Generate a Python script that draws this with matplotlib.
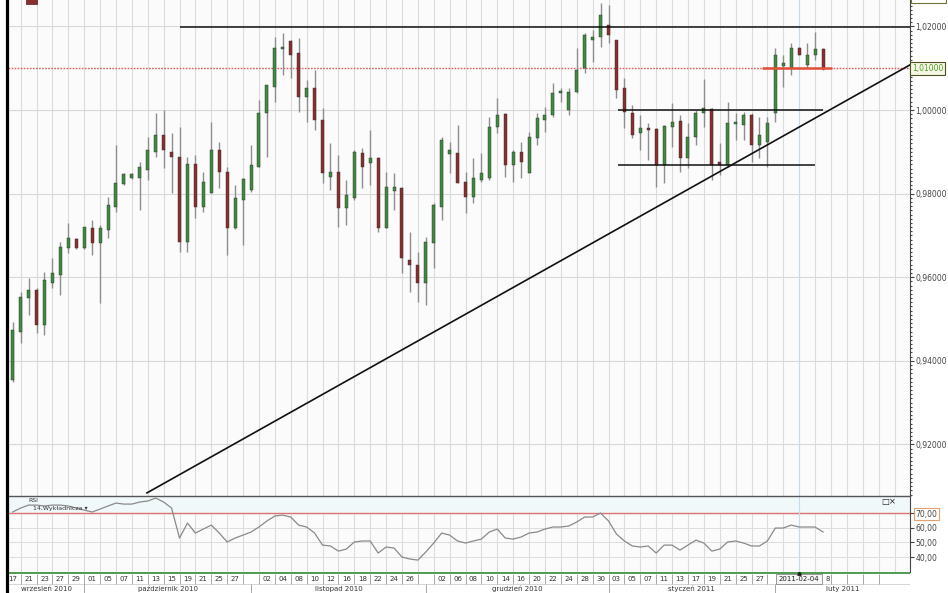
import matplotlib
matplotlib.use("Agg")
import matplotlib.pyplot as plt
from matplotlib.patches import Rectangle
from matplotlib.lines import Line2D
from matplotlib.ticker import MultipleLocator

# daily candles, one per session, 20 Sep 2010 .. 8 Feb 2011
opens = [0.9354, 0.9469, 0.9550, 0.9569, 0.9486, 0.9586, 0.9605, 0.9670, 0.9691, 0.9670,
         0.9718, 0.9682, 0.9713, 0.9768, 0.9823, 0.9837, 0.9837, 0.9856, 0.9900, 0.9940,
         0.9900, 0.9888, 0.9684, 0.9871, 0.9768, 0.9801, 0.9904, 0.9852, 0.9718, 0.9785,
         0.9809, 0.9864, 0.9993, 1.0055, 1.0146, 1.0165, 1.0136, 1.0031, 1.0053, 0.9976,
         0.9840, 0.9852, 0.9766, 0.9789, 0.9897, 0.9873, 0.9885, 0.9718, 0.9806, 0.9813,
         0.9641, 0.9629, 0.9586, 0.9682, 0.9768, 0.9895, 0.9897, 0.9828, 0.9792, 0.9833,
         0.9837, 0.9959, 0.9990, 0.9868, 0.9900, 0.9849, 0.9933, 0.9976, 0.9988, 1.0041,
         1.0000, 1.0043, 1.0100, 1.0167, 1.0175, 1.0203, 1.0167, 1.0053, 0.9993, 0.9945,
         0.9957, 0.9955, 0.9868, 0.9959, 0.9974, 0.9885, 0.9935, 0.9993, 1.0002, 0.9876,
         0.9868, 0.9967, 0.9964, 0.9988, 0.9916, 0.9923, 0.9993, 1.0105, 1.0100, 1.0148,
         1.0108, 1.0132, 1.0146]
highs = [0.9493, 0.9565, 0.9598, 0.9574, 0.9612, 0.9646, 0.9684, 0.9730, 0.9694, 0.9720,
         0.9737, 0.9725, 0.9792, 0.9916, 0.9849, 0.9849, 0.9876, 0.9935, 0.9993, 1.0000,
         0.9945, 0.9959, 0.9888, 0.9892, 0.9852, 0.9971, 0.9923, 0.9864, 0.9821, 0.9837,
         0.9916, 1.0024, 1.0060, 1.0175, 1.0184, 1.0167, 1.0172, 1.0072, 1.0096, 1.0005,
         0.9921, 0.9892, 0.9833, 0.9904, 0.9909, 0.9952, 0.9888, 0.9852, 0.9849, 0.9816,
         0.9708, 0.9660, 0.9696, 0.9778, 0.9935, 0.9923, 0.9964, 0.9852, 0.9885, 0.9897,
         0.9983, 1.0029, 0.9993, 0.9904, 0.9923, 0.9947, 0.9993, 1.0007, 1.0065, 1.0053,
         1.0053, 1.0148, 1.0184, 1.0191, 1.0256, 1.0251, 1.0167, 1.0077, 1.0012, 0.9988,
         0.9969, 0.9957, 0.9964, 1.0017, 0.9988, 0.9969, 1.0000, 1.0074, 1.0005, 0.9921,
         1.0019, 0.9993, 0.9995, 0.9993, 0.9983, 0.9983, 1.0148, 1.0132, 1.0160, 1.0151,
         1.0160, 1.0187, 1.0148]
lows = [0.9350, 0.9443, 0.9510, 0.9467, 0.9462, 0.9574, 0.9557, 0.9658, 0.9667, 0.9667,
        0.9653, 0.9538, 0.9694, 0.9756, 0.9821, 0.9835, 0.9761, 0.9833, 0.9888, 0.9861,
        0.9801, 0.9660, 0.9660, 0.9742, 0.9756, 0.9801, 0.9813, 0.9653, 0.9715, 0.9677,
        0.9804, 0.9864, 0.9888, 1.0019, 1.0084, 1.0077, 0.9995, 0.9971, 0.9952, 0.9825,
        0.9809, 0.9720, 0.9725, 0.9785, 0.9813, 0.9821, 0.9708, 0.9718, 0.9761, 0.9610,
        0.9565, 0.9541, 0.9533, 0.9622, 0.9737, 0.9849, 0.9825, 0.9754, 0.9778, 0.9828,
        0.9833, 0.9945, 0.9840, 0.9828, 0.9837, 0.9849, 0.9916, 0.9947, 0.9983, 1.0019,
        0.9988, 1.0041, 1.0089, 1.0115, 1.0151, 1.0160, 1.0029, 0.9957, 0.9933, 0.9904,
        0.9880, 0.9816, 0.9825, 0.9911, 0.9852, 0.9861, 0.9916, 0.9959, 0.9833, 0.9844,
        0.9864, 0.9928, 0.9928, 0.9876, 0.9885, 0.9864, 0.9971, 1.0055, 1.0084, 1.0132,
        1.0100, 1.0120, 1.0096]
closes = [0.9474, 0.9553, 0.9569, 0.9486, 0.9593, 0.9610, 0.9672, 0.9694, 0.9670, 0.9720,
          0.9682, 0.9718, 0.9773, 0.9825, 0.9847, 0.9847, 0.9864, 0.9904, 0.9940, 0.9904,
          0.9888, 0.9684, 0.9871, 0.9768, 0.9828, 0.9904, 0.9852, 0.9718, 0.9789, 0.9835,
          0.9868, 0.9993, 1.0060, 1.0148, 1.0151, 1.0132, 1.0031, 1.0053, 0.9976, 0.9849,
          0.9852, 0.9766, 0.9797, 0.9900, 0.9864, 0.9885, 0.9718, 0.9816, 0.9816, 0.9646,
          0.9629, 0.9586, 0.9684, 0.9773, 0.9928, 0.9904, 0.9825, 0.9792, 0.9837, 0.9849,
          0.9959, 0.9988, 0.9868, 0.9900, 0.9876, 0.9935, 0.9981, 0.9988, 1.0041, 1.0045,
          1.0043, 1.0096, 1.0179, 1.0175, 1.0227, 1.0179, 1.0048, 0.9995, 0.9940, 0.9957,
          0.9952, 0.9868, 0.9962, 0.9971, 0.9885, 0.9935, 0.9993, 1.0005, 0.9868, 0.9868,
          0.9969, 0.9971, 0.9988, 0.9916, 0.9940, 0.9969, 1.0132, 1.0112, 1.0148, 1.0132,
          1.0132, 1.0146, 1.0098]

# RSI(14, wykladnicza) per session
rsi = [70.7, 73.4, 75.4, 75.4, 74.8, 75.4, 75.4, 74.8, 73.4, 72.0,
       70.7, 72.7, 74.8, 76.8, 76.1, 76.1, 77.5, 78.2, 80.2, 77.5,
       73.4, 53.0, 63.2, 56.4, 59.1, 61.8, 56.4, 50.3, 53.0, 55.0,
       57.1, 60.5, 64.6, 68.0, 68.6, 67.3, 61.8, 60.5, 56.4, 48.2,
       47.6, 44.1, 45.5, 50.3, 51.0, 51.0, 42.8, 46.9, 46.2, 40.1,
       38.7, 38.0, 43.5, 49.6, 56.4, 55.0, 51.0, 49.6, 51.0, 52.3,
       57.1, 59.1, 53.0, 52.3, 53.7, 56.4, 57.1, 59.1, 60.5, 60.5,
       61.2, 63.9, 67.3, 67.3, 70.0, 64.6, 55.7, 51.0, 47.6, 46.9,
       47.6, 42.8, 48.2, 48.2, 44.8, 48.2, 51.6, 49.6, 44.1, 45.5,
       50.3, 51.0, 49.6, 47.6, 47.6, 51.0, 59.8, 59.8, 61.8, 60.5,
       60.5, 60.5, 57.1]

# every second session, starting 17 Sep (session index -1)
day_labels = ["17", "21", "23", "27", "29",
              "01", "05", "07", "11", "13", "15", "19", "21", "25", "27", "",
              "02", "04", "08", "10", "12", "16", "18", "22", "24", "26", "",
              "02", "06", "08", "10", "14", "16", "20", "22", "24", "28", "30",
              "03", "05", "07", "11", "13", "17", "19", "21", "25", "27", "",
              "", "", "", "", "", "", ""]
month_names = ["wrzesień 2010", "październik 2010", "listopad 2010",
               "grudzień 2010", "styczeń 2011", "luty 2011"]
month_first_session = [9, 30, 52, 75, 96]

price_ticks = [0.92, 0.94, 0.96, 0.98, 1.00, 1.02]
price_tick_labels = ["0,92000", "0,94000", "0,96000", "0,98000", "1,00000", "1,02000"]
rsi_ticks = [40, 50, 60, 70]
rsi_tick_labels = ["40,00", "50,00", "60,00", "70,00"]

# drawn studies
resistance = 1.0199
resistance_from = 21
red_level = 1.0100
red_segment = (94.3, 103.1)
box_top = 1.0000
box_bottom = 0.9868
box_from = 76.2
box_top_to = 102.0
box_bottom_to = 101.0
trend_x = [16.9, 112.95]
trend_y = [0.9084, 1.0108]
cursor_session = 99
cursor_label = "2011-02-04"
after_cursor_label = "8"

W, H = 948, 593
X0, X1 = -0.59, 112.95
GREEN, RED, WICK = "#3f8c3f", "#8c2e2e", "#8e8e8e"


def fy(px):
    return 1 - px / H


fig = plt.figure(figsize=(W / 100, H / 100), dpi=100, facecolor="white")

# ---- price panel ----
ax = fig.add_axes([8 / W, fy(496), 902 / W, 496 / H])
ax.set_facecolor("#fbfbfb")
ax.set_xlim(X0, X1)
ax.set_ylim(0.90766, 1.02632)

for j in range(-1, 113, 2):
    ax.axvline(j, color="#dcdcdc", lw=0.8, zorder=0)
for t in price_ticks:
    ax.axhline(t, color="#d8d8d8", lw=0.8, zorder=0)

n = len(opens)
for i in range(n):
    o, h, l, c = opens[i], highs[i], lows[i], closes[i]
    col = GREEN if c >= o else RED
    ax.vlines(i, l, h, color=WICK, lw=1.0, zorder=2)
    body = max(abs(c - o), 0.0003)
    ax.bar(i, body, bottom=min(o, c), width=0.38, color=col,
           edgecolor="#2a2a2a", linewidth=0.3, zorder=3)

ax.axhline(red_level, color="#e06060", lw=1.0, ls=(0, (1.2, 1.0)), zorder=1)
ax.hlines(red_level, *red_segment, color="#e0503a", lw=1.8, zorder=4)
ax.hlines(resistance, resistance_from, X1, color="#111111", lw=1.1, zorder=4)
ax.hlines(box_top, box_from, box_top_to, color="#111111", lw=1.1, zorder=4)
ax.hlines(box_bottom, box_from, box_bottom_to, color="#111111", lw=1.1, zorder=4)
ax.plot(trend_x, trend_y, color="#111111", lw=1.2, zorder=4)
ax.axvline(cursor_session, color="#c4dcee", lw=0.8, zorder=1)

for s in ["left", "top", "bottom"]:
    ax.spines[s].set_visible(False)
ax.spines["right"].set_color("#444444")
ax.spines["right"].set_linewidth(0.8)
ax.yaxis.tick_right()
ax.set_yticks(price_ticks)
ax.set_yticklabels(price_tick_labels)
ax.yaxis.set_minor_locator(MultipleLocator(0.001))
ax.tick_params(axis="y", which="major", length=3, width=0.8, colors="#444444",
               labelsize=5.5, pad=1)
ax.tick_params(axis="y", which="minor", length=1.5, width=0.8, colors="#444444")
ax.set_xticks([])
ax.text(1.002, (red_level - 0.90766) / (1.02632 - 0.90766), "1,01000",
        transform=ax.transAxes, fontsize=5.5, color="#4f9a2a", va="center", ha="left",
        bbox=dict(boxstyle="square,pad=0.25", fc="#f4f8e4", ec="#505020", lw=0.8))

# ---- RSI panel ----
rax = fig.add_axes([8 / W, fy(572), 902 / W, 76 / H])
rax.set_facecolor("#fbfbfb")
rax.set_xlim(X0, X1)
rax.set_ylim(29.9, 81.6)
for j in range(-1, 113, 2):
    rax.axvline(j, color="#dcdcdc", lw=0.8, zorder=0)
for t in [40, 50, 60]:
    rax.axhline(t, color="#dedede", lw=0.7, zorder=0)
rax.axhspan(70, 81.6, color="#f0f8fa", zorder=0)
rax.axhline(70, color="#e07070", lw=1.0, zorder=1)
rax.axvline(cursor_session, color="#c4dcee", lw=0.8, zorder=1)
rax.plot(range(n), rsi, color="#8a8a8a", lw=0.9, zorder=3)
rax.text(2.0, 78.5, "RSI", fontsize=4.5, color="#333333", va="center")
rax.text(2.6, 73.0, "14,Wykładnicza ▾", fontsize=4.5, color="#333333", va="center")
rax.text(111.2, 78.0, "□×", fontsize=6, color="#222222", ha="right", va="center")
for s in ["left", "bottom"]:
    rax.spines[s].set_visible(False)
rax.spines["top"].set_color("#555555")
rax.spines["top"].set_linewidth(1.0)
rax.spines["right"].set_color("#444444")
rax.spines["right"].set_linewidth(0.8)
rax.yaxis.tick_right()
rax.set_yticks(rsi_ticks)
rax.set_yticklabels(rsi_tick_labels)
rax.tick_params(axis="y", length=3, width=0.8, colors="#444444", labelsize=5.5, pad=1)
rax.set_xticks([])
rax.get_yticklabels()[-1].set_bbox(dict(boxstyle="square,pad=0.2", fc="white",
                                        ec="#e0a070", lw=0.8))

# ---- date band ----
dax = fig.add_axes([8 / W, 0, 902 / W, 21 / H])
dax.set_xlim(X0, X1)
dax.set_ylim(593, 572)
dax.axis("off")
dax.axhline(572.6, color="#4f9a4f", lw=1.4)
dax.axhline(584.0, color="#cfcfcf", lw=0.6)
for k, lab in enumerate(day_labels):
    j = -1 + 2 * k
    dax.vlines(j, 573.5, 584.0, color="#999999", lw=0.6)
    if lab and j + 1 < X1:
        dax.text(j + 1, 578.8, lab, ha="center", va="center", fontsize=5, color="#333333")
bounds = [X0] + month_first_session + [X1]
for m, name in enumerate(month_names):
    dax.text((bounds[m] + bounds[m + 1]) / 2, 588.6, name, ha="center", va="center",
             fontsize=5, color="#333333")
for b in month_first_session:
    dax.vlines(b, 584.0, 593, color="#999999", lw=0.6)
dax.add_patch(Rectangle((96.1, 573.6), 5.8, 10.2, fc="#f6f6f6", ec="#888888", lw=0.6,
                        zorder=5))
dax.text(cursor_session, 578.8, cursor_label, ha="center", va="center", fontsize=5,
         color="#222222", zorder=6)
dax.text(102.6, 578.8, after_cursor_label, ha="center", va="center", fontsize=5,
         color="#333333")
dax.plot([cursor_session], [573.4], marker="^", ms=2.5, color="#222222", zorder=6)

# frame bits of the terminal window
fig.add_artist(Line2D([6.5 / W, 6.5 / W], [0, 1], color="black", lw=2.3))
fig.add_artist(Rectangle((26 / W, fy(4)), 11 / W, 6 / H, fc="#8c2e2e", ec="#5a1a1a", lw=0.5))
fig.add_artist(Rectangle((911 / W, fy(3)), 35 / W, 8 / H, fc="white", ec="#707040", lw=0.8))

fig.savefig("out.png", dpi=100, facecolor="white")
